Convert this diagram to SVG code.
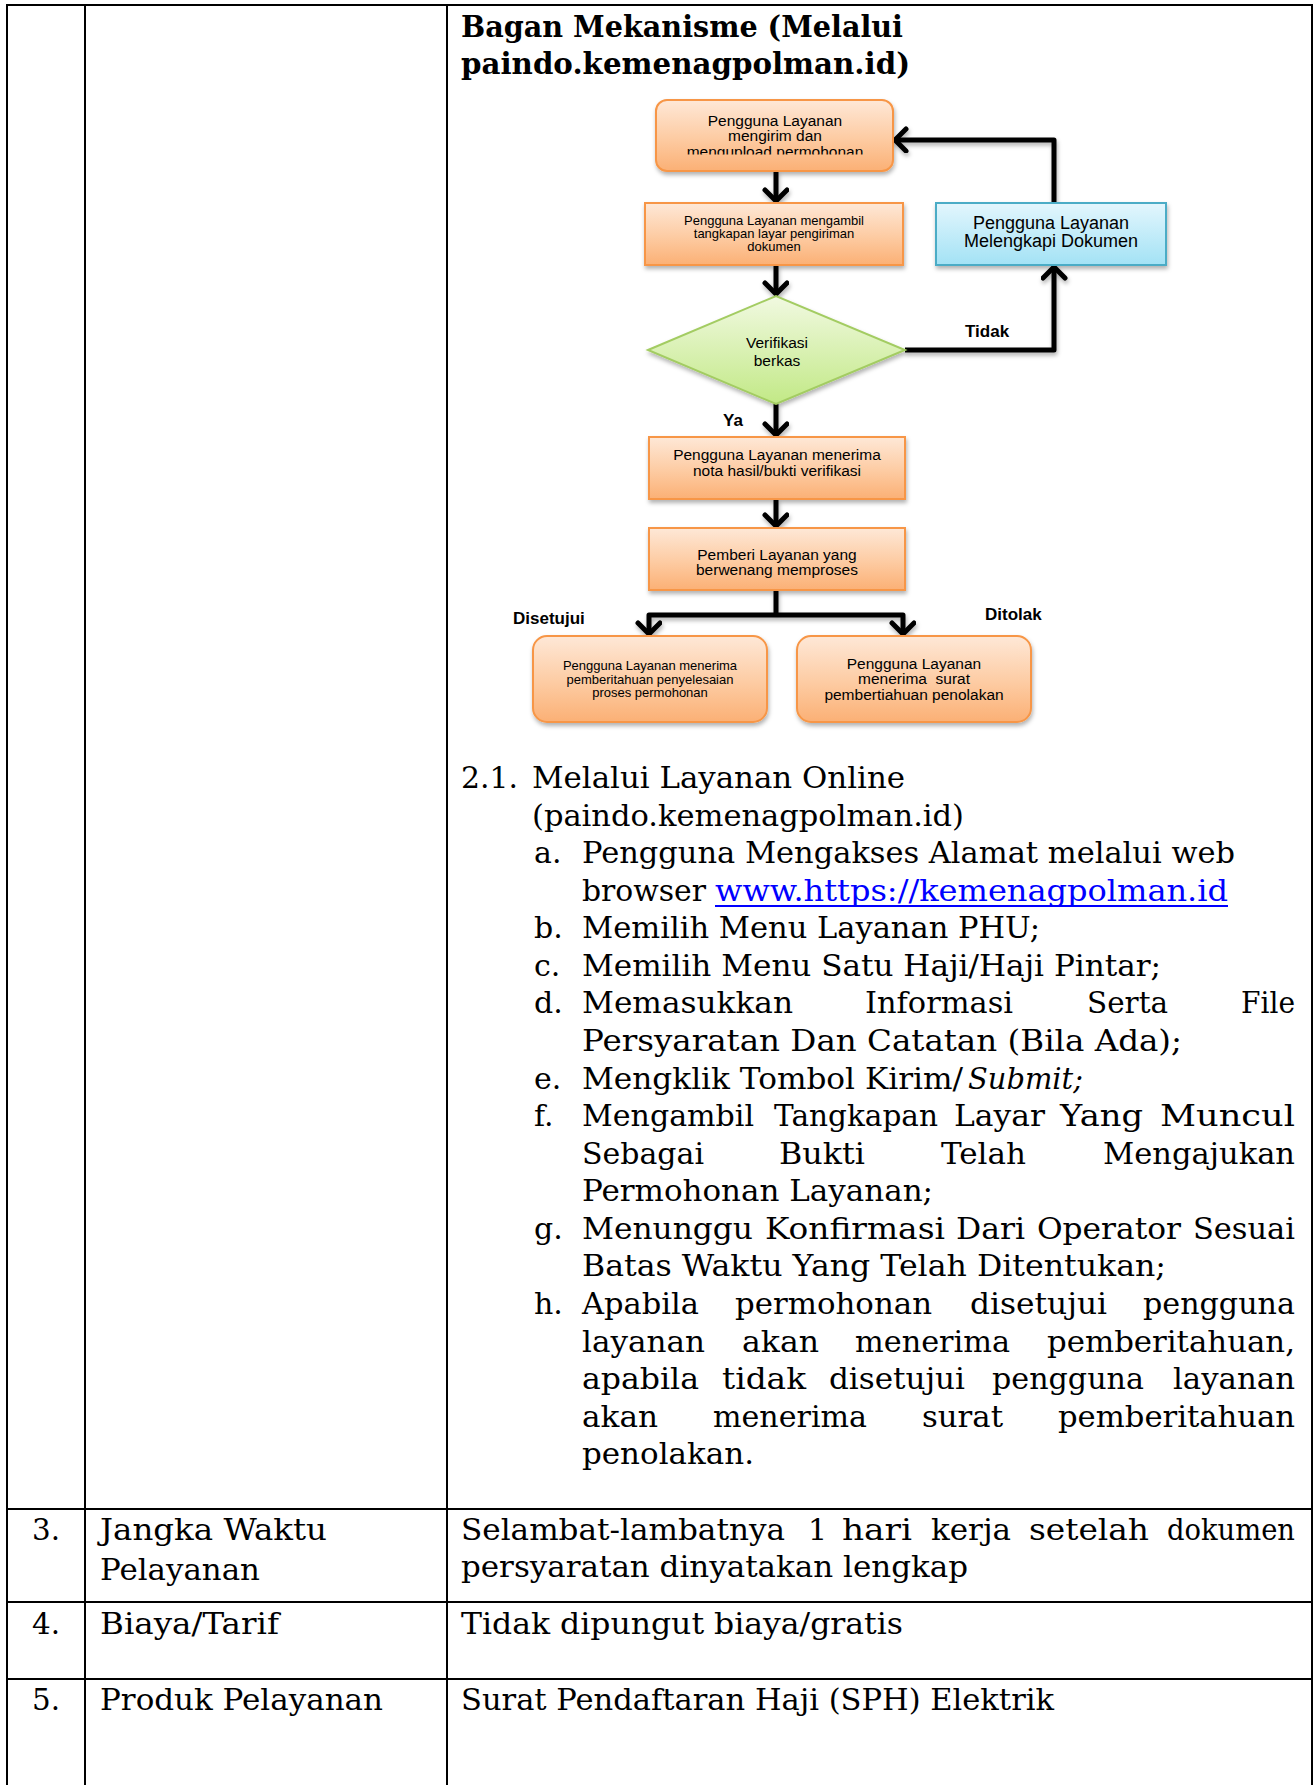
<svg xmlns="http://www.w3.org/2000/svg" width="1316" height="1785" viewBox="0 0 1316 1785">
<style>
.s{font-family:"DejaVu Serif","Liberation Serif",serif;font-size:30px;fill:#000}
.sb{font-family:"DejaVu Serif","Liberation Serif",serif;font-size:30px;font-weight:bold;fill:#000}
.si{font-style:italic}
.f{font-family:"Liberation Sans",Arial,sans-serif;fill:#000;text-anchor:middle}
.lb{font-family:"Liberation Sans",Arial,sans-serif;font-weight:bold;font-size:17px;fill:#000}
.grid{stroke:#000;stroke-width:2;fill:none}
.con{fill:none;stroke:#000;stroke-width:5;stroke-linejoin:round}
.or{fill:url(#gOr);stroke:#f79646;stroke-width:2}
</style>
<defs>
<linearGradient id="gOr" x1="0" y1="0" x2="0" y2="1"><stop offset="0" stop-color="#fee8d7"/><stop offset="0.55" stop-color="#fdcba2"/><stop offset="1" stop-color="#fbb075"/></linearGradient>
<linearGradient id="gBl" x1="0" y1="0" x2="0" y2="1"><stop offset="0" stop-color="#e3f6fd"/><stop offset="1" stop-color="#a3e2f5"/></linearGradient>
<linearGradient id="gGr" x1="0" y1="0" x2="0" y2="1"><stop offset="0" stop-color="#f1f9e1"/><stop offset="1" stop-color="#c2e986"/></linearGradient>
<filter id="sh" x="-10%" y="-10%" width="130%" height="140%"><feDropShadow dx="1" dy="3" stdDeviation="2" flood-color="#000" flood-opacity="0.3"/></filter>
<marker id="ah" markerUnits="userSpaceOnUse" markerWidth="32" markerHeight="32" refX="14" refY="13" orient="auto"><path d="M3,2 L14,13 L3,24" fill="none" stroke="#000" stroke-width="5" stroke-linecap="round" stroke-linejoin="round"/></marker>
<clipPath id="clip1"><rect x="656" y="100" width="237" height="54.5"/></clipPath>
</defs>

<g id="table">
<line class="grid" x1="6" y1="5" x2="1313" y2="5"/>
<line class="grid" x1="7" y1="4" x2="7" y2="1785"/>
<line class="grid" x1="85" y1="4" x2="85" y2="1785"/>
<line class="grid" x1="447" y1="4" x2="447" y2="1785"/>
<line class="grid" x1="1312" y1="4" x2="1312" y2="1785"/>
<line class="grid" x1="6" y1="1509" x2="1313" y2="1509"/>
<line class="grid" x1="6" y1="1602" x2="1313" y2="1602"/>
<line class="grid" x1="6" y1="1679" x2="1313" y2="1679"/>
</g>

<g id="title">
<text class="sb" x="461" y="37" textLength="442" lengthAdjust="spacingAndGlyphs">Bagan Mekanisme (Melalui</text>
<text class="sb" x="461" y="74" textLength="449" lengthAdjust="spacingAndGlyphs">paindo.kemenagpolman.id)</text>
</g>

<g id="connectors" filter="url(#sh)">
<path class="con" d="M776,171 L776,201" marker-end="url(#ah)"/>
<path class="con" d="M776,265 L776,294" marker-end="url(#ah)"/>
<path class="con" d="M905,350 L1054,350 L1054,267" marker-end="url(#ah)"/>
<path class="con" d="M1054,203 L1054,140 L895,140" marker-end="url(#ah)"/>
<path class="con" d="M776,404 L776,435" marker-end="url(#ah)"/>
<path class="con" d="M776,499 L776,526" marker-end="url(#ah)"/>
<path class="con" d="M776,590 L776,615"/>
<path class="con" d="M776,615 L649,615 L649,634" marker-end="url(#ah)"/>
<path class="con" d="M776,615 L903,615 L903,634" marker-end="url(#ah)"/>
</g>

<g id="n1">
<rect class="or" x="656" y="100" width="237" height="71" rx="11" filter="url(#sh)"/>
<g clip-path="url(#clip1)">
<text class="f" font-size="15.5" x="775" y="126">Pengguna Layanan</text>
<text class="f" font-size="15.5" x="775" y="141">mengirim dan</text>
<text class="f" font-size="15.5" x="775" y="156.5">mengupload permohonan</text>
</g>
</g>

<g id="n2">
<rect class="or" x="645" y="203" width="258" height="62" filter="url(#sh)"/>
<text class="f" font-size="13" x="774" y="224.5">Pengguna Layanan mengambil</text>
<text class="f" font-size="13" x="774" y="237.5">tangkapan layar pengiriman</text>
<text class="f" font-size="13" x="774" y="250.5">dokumen</text>
</g>

<g id="n3">
<rect x="936" y="203" width="230" height="62" fill="url(#gBl)" stroke="#4bacc6" stroke-width="2" filter="url(#sh)"/>
<text class="f" font-size="18" x="1051" y="229">Pengguna Layanan</text>
<text class="f" font-size="18" x="1051" y="247">Melengkapi Dokumen</text>
</g>

<g id="n4">
<polygon points="648,350 776,296 905,350 776,404" fill="url(#gGr)" stroke="#a3cc62" stroke-width="2" filter="url(#sh)"/>
<text class="f" font-size="15.5" x="777" y="347.5">Verifikasi</text>
<text class="f" font-size="15.5" x="777" y="365.5">berkas</text>
</g>

<g id="n5">
<rect class="or" x="649" y="437" width="256" height="62" filter="url(#sh)"/>
<text class="f" font-size="15.5" x="777" y="459.5">Pengguna Layanan menerima</text>
<text class="f" font-size="15.5" x="777" y="475.5">nota hasil/bukti verifikasi</text>
</g>

<g id="n6">
<rect class="or" x="649" y="528" width="256" height="62" filter="url(#sh)"/>
<text class="f" font-size="15.5" x="777" y="559.5">Pemberi Layanan yang</text>
<text class="f" font-size="15.5" x="777" y="574.5">berwenang memproses</text>
</g>

<g id="n7">
<rect class="or" x="533" y="636" width="234" height="86" rx="14" filter="url(#sh)"/>
<text class="f" font-size="13" x="650" y="669.5">Pengguna Layanan menerima</text>
<text class="f" font-size="13" x="650" y="683.5">pemberitahuan penyelesaian</text>
<text class="f" font-size="13" x="650" y="696.5">proses permohonan</text>
</g>

<g id="n8">
<rect class="or" x="797" y="636" width="234" height="86" rx="14" filter="url(#sh)"/>
<text class="f" font-size="15.5" x="914" y="668.5">Pengguna Layanan</text>
<text class="f" font-size="15.5" x="914" y="683.5" xml:space="preserve">menerima  surat</text>
<text class="f" font-size="15.5" x="914" y="699.5">pembertiahuan penolakan</text>
</g>

<g id="labels">
<text class="lb" x="965" y="337">Tidak</text>
<text class="lb" x="723" y="426">Ya</text>
<text class="lb" x="513" y="624">Disetujui</text>
<text class="lb" x="985" y="620">Ditolak</text>
</g>

<g id="body">
<text class="s" x="461" y="788" textLength="57" lengthAdjust="spacingAndGlyphs">2.1.</text>
<text class="s" x="532" y="788" textLength="373" lengthAdjust="spacingAndGlyphs">Melalui Layanan Online</text>
<text class="s" x="532" y="826" textLength="432" lengthAdjust="spacingAndGlyphs">(paindo.kemenagpolman.id)</text>

<text class="s" x="534" y="863">a.</text>
<text class="s" x="582" y="863" textLength="653" lengthAdjust="spacingAndGlyphs">Pengguna Mengakses Alamat melalui web</text>
<text class="s" x="582" y="901" textLength="124" lengthAdjust="spacingAndGlyphs">browser</text>
<text class="s" x="715" y="901" textLength="513" lengthAdjust="spacingAndGlyphs" style="fill:#0000ff">www.https://kemenagpolman.id</text>
<line x1="715" y1="906" x2="1228" y2="906" stroke="#0000ff" stroke-width="2"/>

<text class="s" x="534" y="938">b.</text>
<text class="s" x="582" y="938" textLength="458" lengthAdjust="spacingAndGlyphs">Memilih Menu Layanan PHU;</text>

<text class="s" x="534" y="976">c.</text>
<text class="s" x="582" y="976" textLength="579" lengthAdjust="spacingAndGlyphs">Memilih Menu Satu Haji/Haji Pintar;</text>

<text class="s" x="534" y="1013">d.</text>
<text class="s" x="582" y="1013" textLength="211" lengthAdjust="spacingAndGlyphs">Memasukkan</text>
<text class="s" x="865" y="1013" textLength="148" lengthAdjust="spacingAndGlyphs">Informasi</text>
<text class="s" x="1087" y="1013" textLength="81" lengthAdjust="spacingAndGlyphs">Serta</text>
<text class="s" x="1241" y="1013" textLength="54" lengthAdjust="spacingAndGlyphs">File</text>
<text class="s" x="582" y="1051" textLength="600" lengthAdjust="spacingAndGlyphs">Persyaratan Dan Catatan (Bila Ada);</text>

<text class="s" x="534" y="1089">e.</text>
<text class="s" x="582" y="1089" textLength="381" lengthAdjust="spacingAndGlyphs">Mengklik Tombol Kirim/</text>
<text class="s si" x="968" y="1089" textLength="115" lengthAdjust="spacingAndGlyphs">Submit;</text>

<text class="s" x="534" y="1126">f.</text>
<text class="s" x="582" y="1126" textLength="172" lengthAdjust="spacingAndGlyphs">Mengambil</text>
<text class="s" x="774" y="1126" textLength="164" lengthAdjust="spacingAndGlyphs">Tangkapan</text>
<text class="s" x="954" y="1126" textLength="91" lengthAdjust="spacingAndGlyphs">Layar</text>
<text class="s" x="1060" y="1126" textLength="83" lengthAdjust="spacingAndGlyphs">Yang</text>
<text class="s" x="1160" y="1126" textLength="135" lengthAdjust="spacingAndGlyphs">Muncul</text>
<text class="s" x="582" y="1164" textLength="122" lengthAdjust="spacingAndGlyphs">Sebagai</text>
<text class="s" x="779" y="1164" textLength="86" lengthAdjust="spacingAndGlyphs">Bukti</text>
<text class="s" x="941" y="1164" textLength="85" lengthAdjust="spacingAndGlyphs">Telah</text>
<text class="s" x="1103" y="1164" textLength="192" lengthAdjust="spacingAndGlyphs">Mengajukan</text>
<text class="s" x="582" y="1201" textLength="351" lengthAdjust="spacingAndGlyphs">Permohonan Layanan;</text>

<text class="s" x="534" y="1239">g.</text>
<text class="s" x="582" y="1239" textLength="171" lengthAdjust="spacingAndGlyphs">Menunggu</text>
<text class="s" x="765" y="1239" textLength="180" lengthAdjust="spacingAndGlyphs">Konfirmasi</text>
<text class="s" x="956" y="1239" textLength="69" lengthAdjust="spacingAndGlyphs">Dari</text>
<text class="s" x="1037" y="1239" textLength="144" lengthAdjust="spacingAndGlyphs">Operator</text>
<text class="s" x="1193" y="1239" textLength="102" lengthAdjust="spacingAndGlyphs">Sesuai</text>
<text class="s" x="582" y="1276" textLength="584" lengthAdjust="spacingAndGlyphs">Batas Waktu Yang Telah Ditentukan;</text>

<text class="s" x="534" y="1314">h.</text>
<text class="s" x="582" y="1314" textLength="117" lengthAdjust="spacingAndGlyphs">Apabila</text>
<text class="s" x="735" y="1314" textLength="197" lengthAdjust="spacingAndGlyphs">permohonan</text>
<text class="s" x="970" y="1314" textLength="137" lengthAdjust="spacingAndGlyphs">disetujui</text>
<text class="s" x="1143" y="1314" textLength="152" lengthAdjust="spacingAndGlyphs">pengguna</text>
<text class="s" x="582" y="1352" textLength="123" lengthAdjust="spacingAndGlyphs">layanan</text>
<text class="s" x="742" y="1352" textLength="77" lengthAdjust="spacingAndGlyphs">akan</text>
<text class="s" x="855" y="1352" textLength="155" lengthAdjust="spacingAndGlyphs">menerima</text>
<text class="s" x="1047" y="1352" textLength="248" lengthAdjust="spacingAndGlyphs">pemberitahuan,</text>
<text class="s" x="582" y="1389" textLength="117" lengthAdjust="spacingAndGlyphs">apabila</text>
<text class="s" x="722" y="1389" textLength="84" lengthAdjust="spacingAndGlyphs">tidak</text>
<text class="s" x="829" y="1389" textLength="136" lengthAdjust="spacingAndGlyphs">disetujui</text>
<text class="s" x="992" y="1389" textLength="152" lengthAdjust="spacingAndGlyphs">pengguna</text>
<text class="s" x="1173" y="1389" textLength="122" lengthAdjust="spacingAndGlyphs">layanan</text>
<text class="s" x="582" y="1427" textLength="76" lengthAdjust="spacingAndGlyphs">akan</text>
<text class="s" x="713" y="1427" textLength="154" lengthAdjust="spacingAndGlyphs">menerima</text>
<text class="s" x="922" y="1427" textLength="81" lengthAdjust="spacingAndGlyphs">surat</text>
<text class="s" x="1058" y="1427" textLength="237" lengthAdjust="spacingAndGlyphs">pemberitahuan</text>
<text class="s" x="582" y="1464" textLength="172" lengthAdjust="spacingAndGlyphs">penolakan.</text>
</g>

<g id="rows">
<text class="s" x="32" y="1540" textLength="28" lengthAdjust="spacingAndGlyphs">3.</text>
<text class="s" x="100" y="1540" textLength="227" lengthAdjust="spacingAndGlyphs">Jangka Waktu</text>
<text class="s" x="100" y="1580" textLength="160" lengthAdjust="spacingAndGlyphs">Pelayanan</text>
<text class="s" x="461" y="1540" textLength="324" lengthAdjust="spacingAndGlyphs">Selambat-lambatnya</text>
<text class="s" x="808" y="1540">1</text>
<text class="s" x="842" y="1540" textLength="70" lengthAdjust="spacingAndGlyphs">hari</text>
<text class="s" x="931" y="1540" textLength="80" lengthAdjust="spacingAndGlyphs">kerja</text>
<text class="s" x="1029" y="1540" textLength="120" lengthAdjust="spacingAndGlyphs">setelah</text>
<text class="s" x="1167" y="1540" textLength="128" lengthAdjust="spacingAndGlyphs">dokumen</text>
<text class="s" x="461" y="1577" textLength="507" lengthAdjust="spacingAndGlyphs">persyaratan dinyatakan lengkap</text>

<text class="s" x="32" y="1634" textLength="28" lengthAdjust="spacingAndGlyphs">4.</text>
<text class="s" x="100" y="1634" textLength="179" lengthAdjust="spacingAndGlyphs">Biaya/Tarif</text>
<text class="s" x="461" y="1634" textLength="442" lengthAdjust="spacingAndGlyphs">Tidak dipungut biaya/gratis</text>

<text class="s" x="32" y="1710" textLength="28" lengthAdjust="spacingAndGlyphs">5.</text>
<text class="s" x="100" y="1710" textLength="283" lengthAdjust="spacingAndGlyphs">Produk Pelayanan</text>
<text class="s" x="461" y="1710" textLength="593" lengthAdjust="spacingAndGlyphs">Surat Pendaftaran Haji (SPH) Elektrik</text>
</g>
</svg>
